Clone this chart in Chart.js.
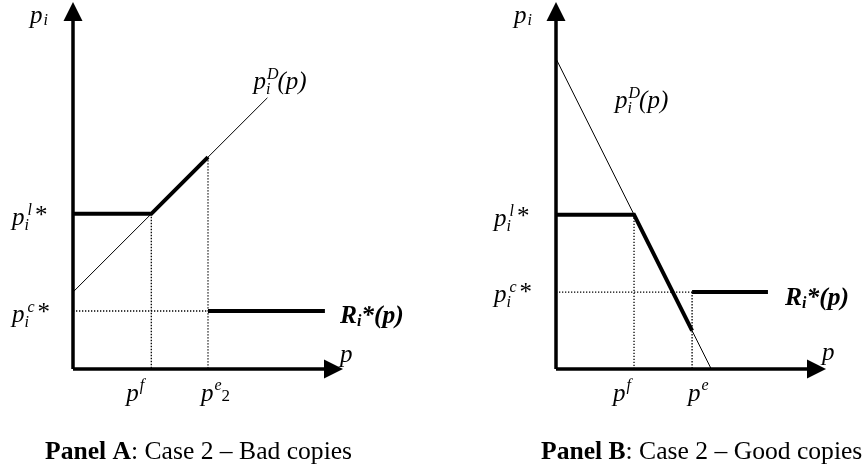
<!DOCTYPE html>
<html>
<head>
<meta charset="utf-8">
<script src="https://cdn.jsdelivr.net/npm/chart.js@4/dist/chart.umd.min.js"></script>
<style>
  body { margin: 0; background: #fff; }
  #wrap { position: relative; width: 862px; height: 475px; overflow: hidden; }
  #wrap canvas { position: absolute; top: 0; }
</style>
</head>
<body>
<div id="wrap">
  <canvas id="panelA" width="431" height="475" style="left:0"></canvas>
  <canvas id="panelB" width="431" height="475" style="left:431px"></canvas>
</div>
<script>
// Panel A (bad copies): demand line rises with p
const demandA_p  = [0, 2.9, 5.0, 7.2];
const demandA_pi = [2.85, 5.75, 7.85, 10.05];
const cutsA   = [2.9, 5.0];     // p^f, p^e_2
const levelsA = [5.75, 2.15];   // p_i^l*, p_i^c*
const rEndA   = 9.33;

// Panel B (good copies): demand line falls with p
const demandB_p  = [0, 2.89, 5.04, 5.75];
const demandB_pi = [11.5, 5.72, 1.42, 0];
const cutsB   = [2.89, 5.04];   // p^f, p^e
const levelsB = [5.72, 2.85];   // p_i^l*, p_i^c*
const rEndB   = 7.85;

const X_MAX = 10, Y_MAX = 13.6;
const captions = [['Panel A', ': Case 2 \u2013 Bad copies'], ['Panel B', ': Case 2 \u2013 Good copies']];

const SERIF = '"Liberation Serif", "Times New Roman", serif';
const IT  = 'italic 25px ' + SERIF;
const ITs = 'italic 16px ' + SERIF;
const RG  = '25px ' + SERIF;
const BI  = 'bold italic 25.5px ' + SERIF;
const BIs = 'bold italic 16px ' + SERIF;

function seg(xs, ys, width, dash) {
    return {
        data: xs.map((x, i) => ({ x: x, y: ys[i] })),
        showLine: true,
        borderColor: '#000',
        borderWidth: width,
        borderDash: dash || [],
        borderCapStyle: 'butt',
        pointRadius: 0,
        clip: false
    };
}

// draw a run of text pieces (sub/superscripts); "back" restarts at the previous piece
function rich(ctx, x, y, parts) {
    let prevStart = x, maxX = x;
    parts.forEach(p => {
        ctx.font = p.f;
        const sx = (p.back ? prevStart : maxX) + (p.dx || 0);
        ctx.fillText(p.t, sx, y + (p.dy || 0));
        prevStart = sx;
        maxX = Math.max(maxX, sx + ctx.measureText(p.t).width);
    });
}

function piLabel(sup, tail) {
    const star = tail === '*';
    return [
        { t: 'p', f: IT },
        { t: 'i', f: ITs, dy: 5 },
        { t: sup, f: ITs, dy: -10, back: true, dx: star ? 3 : 1 },
        { t: tail, f: star ? RG : IT, dx: star ? 3 : -1, dy: star ? -2 : 0 }
    ];
}

function makePanel(id, padLeft, padRight, datasets, labels, caption, capX) {
    const deco = {
        id: 'deco' + id,
        afterDatasetsDraw(chart) {
            const ctx = chart.ctx;
            const xs = chart.scales.x, ys = chart.scales.y;
            const x0 = xs.getPixelForValue(0), y0 = ys.getPixelForValue(0);
            const yTop = ys.getPixelForValue(Y_MAX), xEnd = xs.getPixelForValue(X_MAX);
            ctx.save();
            ctx.fillStyle = '#000';
            // arrow heads
            ctx.beginPath();
            ctx.moveTo(x0, yTop);
            ctx.lineTo(x0 - 9.5, yTop + 19);
            ctx.lineTo(x0 + 9.5, yTop + 19);
            ctx.closePath();
            ctx.fill();
            ctx.beginPath();
            ctx.moveTo(xEnd, y0);
            ctx.lineTo(xEnd - 19, y0 - 9.5);
            ctx.lineTo(xEnd - 19, y0 + 9.5);
            ctx.closePath();
            ctx.fill();
            // labels
            ctx.textBaseline = 'alphabetic';
            labels(ctx, xs, ys, x0, y0);
            // caption
            ctx.font = 'bold 25.6px ' + SERIF;
            ctx.fillText(caption[0], capX, 459);
            const w = ctx.measureText(caption[0]).width;
            ctx.font = '25.6px ' + SERIF;
            ctx.fillText(caption[1], capX + w, 459);
            ctx.restore();
        }
    };
    return new Chart(document.getElementById(id), {
        type: 'scatter',
        data: { datasets: datasets },
        options: {
            responsive: false,
            animation: false,
            events: [],
            layout: { padding: { left: padLeft, right: padRight, top: 2, bottom: 106 } },
            plugins: { legend: { display: false }, tooltip: { enabled: false } },
            scales: {
                x: { type: 'linear', display: false, min: 0, max: X_MAX },
                y: { type: 'linear', display: false, min: 0, max: Y_MAX }
            }
        },
        plugins: [deco]
    });
}

const DOT = [1.3, 1.7];

// Panel A
makePanel('panelA', 73, 88, [
    seg([0, 0], [0, 12.95], 3.5),
    seg([0, X_MAX - 0.6], [0, 0], 3.5),
    seg([demandA_p[0], demandA_p[3]], [demandA_pi[0], demandA_pi[3]], 1),
    seg([cutsA[0], cutsA[0]], [levelsA[0], 0], 1.3, DOT),
    seg([cutsA[1], cutsA[1]], [demandA_pi[2], 0], 1.3, DOT),
    seg([0, cutsA[1]], [levelsA[1], levelsA[1]], 1.3, DOT),
    seg([0, cutsA[0], cutsA[1]], [levelsA[0], levelsA[0], demandA_pi[2]], 4),
    seg([cutsA[1], rEndA], [levelsA[1], levelsA[1]], 4)
], (ctx, xs, ys, x0, y0) => {
    rich(ctx, x0 - 43, 23, [{ t: 'p', f: IT }, { t: 'i', f: ITs, dy: 2, dx: 1 }]);
    rich(ctx, xs.getPixelForValue(demandA_p[3]) - 14, ys.getPixelForValue(demandA_pi[3]) - 9, piLabel('D', '(p)'));
    rich(ctx, x0 - 61, ys.getPixelForValue(levelsA[0]) + 11, piLabel('l', '*'));
    rich(ctx, x0 - 61, ys.getPixelForValue(levelsA[1]) + 11, piLabel('c', '*'));
    rich(ctx, xs.getPixelForValue(rEndA) + 15, ys.getPixelForValue(levelsA[1]) + 12,
        [{ t: 'R', f: BI }, { t: 'i', f: BIs, dy: 3 }, { t: '*(p)', f: BI }]);
    rich(ctx, xs.getPixelForValue(X_MAX) - 3, y0 - 7, [{ t: 'p', f: IT }]);
    rich(ctx, xs.getPixelForValue(cutsA[0]) - 25, y0 + 32, [{ t: 'p', f: IT }, { t: 'f', f: ITs, dy: -11, dx: 1 }]);
    rich(ctx, xs.getPixelForValue(cutsA[1]) - 7, y0 + 32,
        [{ t: 'p', f: IT }, { t: 'e', f: ITs, dy: -11, dx: 1 }, { t: '2', f: '17px ' + SERIF, dx: 0 }]);
}, captions[0], 45);

// Panel B
makePanel('panelB', 125, 36, [
    seg([0, 0], [0, 12.95], 3.5),
    seg([0, X_MAX - 0.6], [0, 0], 3.5),
    seg([demandB_p[0], demandB_p[3]], [demandB_pi[0], demandB_pi[3]], 1),
    seg([cutsB[0], cutsB[0]], [levelsB[0], 0], 1.3, DOT),
    seg([cutsB[1], cutsB[1]], [levelsB[1], 0], 1.3, DOT),
    seg([0, cutsB[1]], [levelsB[1], levelsB[1]], 1.3, DOT),
    seg([0, cutsB[0], cutsB[1]], [levelsB[0], levelsB[0], demandB_pi[2]], 4),
    seg([cutsB[1], rEndB], [levelsB[1], levelsB[1]], 4)
], (ctx, xs, ys, x0, y0) => {
    rich(ctx, x0 - 42, 23, [{ t: 'p', f: IT }, { t: 'i', f: ITs, dy: 2, dx: 1 }]);
    rich(ctx, x0 + 59, 108, piLabel('D', '(p)'));
    rich(ctx, x0 - 62, ys.getPixelForValue(levelsB[0]) + 11, piLabel('l', '*'));
    rich(ctx, x0 - 62, ys.getPixelForValue(levelsB[1]) + 10, piLabel('c', '*'));
    rich(ctx, xs.getPixelForValue(rEndB) + 17, ys.getPixelForValue(levelsB[1]) + 13,
        [{ t: 'R', f: BI }, { t: 'i', f: BIs, dy: 3 }, { t: '*(p)', f: BI }]);
    rich(ctx, xs.getPixelForValue(X_MAX) - 4, y0 - 9, [{ t: 'p', f: IT }]);
    rich(ctx, xs.getPixelForValue(cutsB[0]) - 21, y0 + 32, [{ t: 'p', f: IT }, { t: 'f', f: ITs, dy: -11, dx: 1 }]);
    rich(ctx, xs.getPixelForValue(cutsB[1]) - 4, y0 + 32, [{ t: 'p', f: IT }, { t: 'e', f: ITs, dy: -11, dx: 1 }]);
}, captions[1], 110);
</script>
</body>
</html>
